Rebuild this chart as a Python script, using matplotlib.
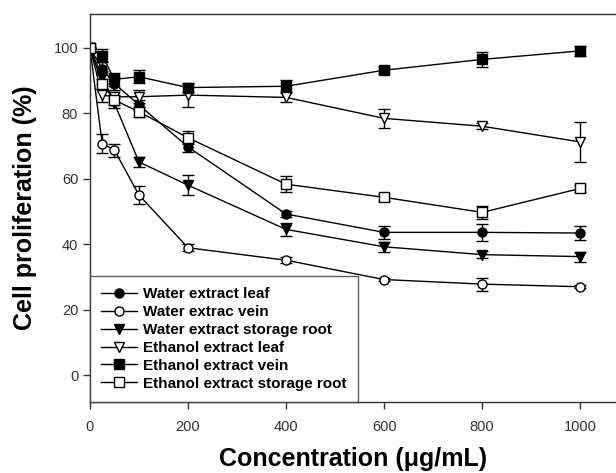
import matplotlib
matplotlib.use('Agg')
import matplotlib.pyplot as plt
import numpy as np

plt.rcParams['font.family'] = ['Liberation Sans', 'DejaVu Sans']

# concentrations (ug/mL)
conc = [0, 25, 50, 100, 200, 400, 600, 800, 1000]

water_leaf      = [100, 93.5, 89, 82.5, 69.7, 49.2, 43.6, 43.6, 43.4]
water_leaf_err  = [0, 2, 2, 1.5, 1.5, 1, 2, 2.5, 2]
water_vein      = [100, 70.7, 68.7, 55, 38.9, 35.1, 29.2, 27.8, 27]
water_vein_err  = [0, 3, 2, 2.8, 1, 1, 0.5, 2, 0.5]
water_root      = [100, 91, 83, 65.1, 58, 44.5, 39.2, 36.8, 36.2]
water_root_err  = [0, 2, 1.5, 1.5, 3, 2, 1.5, 1, 1.5]
eth_leaf        = [100, 85.5, 85, 85, 85.5, 84.8, 78.4, 76, 71.2]
eth_leaf_err    = [0, 2, 1.5, 2, 3.5, 1.5, 3, 1, 6.2]
eth_vein        = [100, 97.5, 90.3, 91.1, 87.8, 88.2, 93.1, 96.4, 99]
eth_vein_err    = [0, 2, 2, 2, 1.5, 2, 1, 2.2, 1.5]
eth_root        = [100, 89, 84, 80.4, 72.5, 58.3, 54.3, 49.7, 57]
eth_root_err    = [0, 1.5, 1.5, 1.5, 2, 2.5, 1, 2, 1]

series = [
    ("Water extract leaf", water_leaf, water_leaf_err, 'o', 'black'),
    ("Water extrac vein", water_vein, water_vein_err, 'o', 'white'),
    ("Water extract storage root", water_root, water_root_err, 'v', 'black'),
    ("Ethanol extract leaf", eth_leaf, eth_leaf_err, 'v', 'white'),
    ("Ethanol extract vein", eth_vein, eth_vein_err, 's', 'black'),
    ("Ethanol extract storage root", eth_root, eth_root_err, 's', 'white'),
]

fig = plt.figure(figsize=(6.16, 4.73), dpi=100)
ax = fig.add_axes([0.146, 0.150, 0.854, 0.820])

for label, y, err, mk, fc in series:
    ax.errorbar(conc, y, yerr=err, color='black', lw=1.0, elinewidth=1.0,
                capsize=4, capthick=1.0, marker=mk, markersize=6.5,
                markerfacecolor=fc, markeredgecolor='black', markeredgewidth=1.0,
                label=label)

ax.set_xlim(0, 1073)
ax.set_ylim(-8.2, 110.2)
ax.set_xticks([0, 200, 400, 600, 800, 1000])
ax.set_yticks([0, 20, 40, 60, 80, 100])
ax.spines['right'].set_visible(False)
for s in ['left', 'top', 'bottom']:
    ax.spines[s].set_linewidth(1.0)
    ax.spines[s].set_color('#333333')
ax.tick_params(direction='out', length=5, width=1, labelsize=10.5,
               colors='#333333', labelcolor='#333333')
ax.tick_params(axis='x', pad=8)

ax.set_xlabel("Concentration (\u03bcg/mL)", fontsize=18, fontweight='bold', labelpad=9)
ax.set_ylabel("Cell proliferation (%)", fontsize=18, fontweight='bold', labelpad=12)

handles, labels = ax.get_legend_handles_labels()
handles = [h[0] for h in handles]
leg = ax.legend(handles, labels, loc='lower left', borderaxespad=0, fancybox=False,
                frameon=True, prop={'weight': 'bold', 'size': 11},
                handlelength=2.3, handletextpad=0.45, labelspacing=0.25,
                borderpad=0.75)
leg.get_frame().set_edgecolor('#333333')
leg.get_frame().set_linewidth(1.0)

plt.savefig("out.png", dpi=100)
plt.close()
